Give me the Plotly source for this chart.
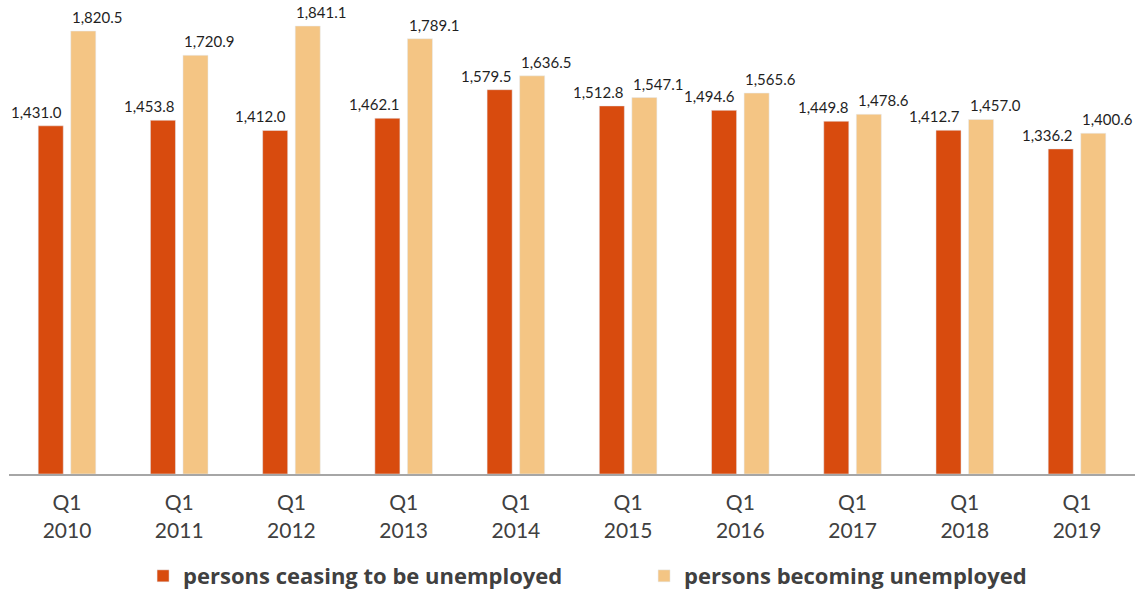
import plotly.graph_objects as go

# Data (thousands of persons, Q1 of each year)
years = ['2010', '2011', '2012', '2013', '2014', '2015', '2016', '2017', '2018', '2019']
categories = ['Q1<br>' + y for y in years]
ceasing = [1431.0, 1453.8, 1412.0, 1462.1, 1579.5, 1512.8, 1494.6, 1449.8, 1412.7, 1336.2]
becoming = [1820.5, 1720.9, 1841.1, 1789.1, 1636.5, 1547.1, 1565.6, 1478.6, 1457.0, 1400.6]

dark = '#D84B0E'
light = '#F4C584'
font_family = 'Lato, Open Sans, sans-serif'

fig = go.Figure()
fig.add_trace(go.Bar(x=categories, y=ceasing, name='persons ceasing to be unemployed',
                     marker_color=dark))
fig.add_trace(go.Bar(x=categories, y=becoming, name='persons becoming unemployed',
                     marker_color=light))

# value labels, nudged left/right so the pairs don't collide
for cat, v in zip(categories, ceasing):
    fig.add_annotation(x=cat, y=v, text=f'{v:,.1f}', showarrow=False,
                       xanchor='right', yanchor='bottom', xshift=-3, yshift=3,
                       font=dict(family=font_family, size=15, color='#1F1F1F'))
for cat, v in zip(categories, becoming):
    fig.add_annotation(x=cat, y=v, text=f'{v:,.1f}', showarrow=False,
                       xanchor='left', yanchor='bottom', xshift=3, yshift=3,
                       font=dict(family=font_family, size=15, color='#1F1F1F'))

fig.update_layout(
    width=1146, height=589, autosize=False,
    margin=dict(l=9, r=11, t=10, b=115),
    plot_bgcolor='white', paper_bgcolor='white',
    barmode='group', bargap=0.42, bargroupgap=0.23,
    font=dict(family=font_family, color='#404040'),
    legend=dict(orientation='h', x=0.564, xanchor='center',
                yref='container', y=0.022, yanchor='middle',
                font=dict(family='Open Sans, sans-serif', size=22, color='#404040', weight='bold'),
                entrywidth=456, itemclick=False),
    xaxis=dict(type='category', showline=True, linecolor='#A6A6A6', linewidth=2,
               ticks='', showgrid=False, ticklabelstandoff=9,
               tickfont=dict(size=21, color='#404040')),
    yaxis=dict(visible=False, range=[0, 1907]),
)

fig.write_html('out.html', config={'displayModeBar': False},
               post_script="document.body.style.margin='0px';")
